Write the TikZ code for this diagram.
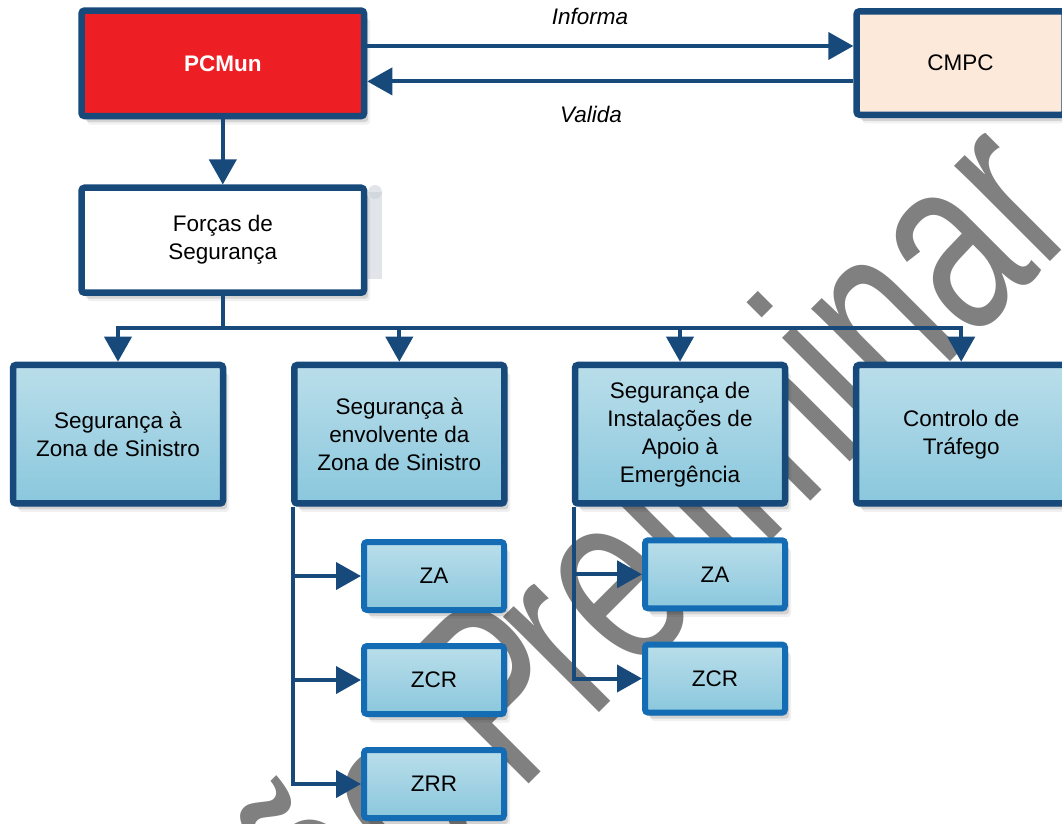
\documentclass[tikz,border=0pt]{standalone}
\usepackage{fontspec}
\setmainfont{Liberation Sans}
\newfontfamily\wmfam{Liberation Sans}
\usepackage{graphicx}
\usetikzlibrary{arrows.meta,shadows,calc}
\definecolor{navy}{RGB}{23,73,123}
\definecolor{zblue}{RGB}{19,108,180}
\definecolor{bluetop}{RGB}{186,222,234}
\definecolor{bluebot}{RGB}{138,199,221}
\definecolor{pcred}{RGB}{237,31,36}
\definecolor{peach}{RGB}{252,233,218}
\definecolor{wmgray}{RGB}{128,128,128}
\definecolor{artif}{RGB}{200,206,214}
\newcommand\bxfont{\fontsize{22.5}{28}\selectfont}
\begin{document}
\begin{tikzpicture}[x=1pt,y=-1pt,
  basebox/.style={rectangle, rounded corners=3pt, inner sep=0pt, align=center, font=\bxfont},
  shad/.style={drop shadow={shadow xshift=2pt,shadow yshift=-3pt,opacity=.2,fill=black},
               drop shadow={shadow xshift=4pt,shadow yshift=-6pt,opacity=.12,fill=black},
               drop shadow={shadow xshift=6pt,shadow yshift=-8.5pt,opacity=.06,fill=black}},
  navybox/.style={basebox, draw=navy, line width=6.5pt, shad},
  rowbox/.style={navybox, top color=bluetop, bottom color=bluebot, minimum width=210pt, minimum height=138.5pt},
  zbox/.style={basebox, draw=zblue, line width=6pt, shad, top color=bluetop, bottom color=bluebot, minimum width=140pt, minimum height=68pt},
  conn/.style={draw=navy, line width=4pt},
  arr/.style={conn, -{Triangle[length=25pt,width=27pt]}},
  lbl/.style={font=\bxfont\itshape, inner sep=0pt},
  wm/.style={anchor=base east, rotate=45, inner sep=0pt, text=wmgray, font=\wmfam\fontsize{256}{256}\selectfont}
]
\useasboundingbox (0,0) rectangle (1062,823);
\begin{scope}
\clip (0,0) rectangle (1062,823);
\node[wm] (wmark) at (1085.1,227.3) {\scalebox{0.712}[1]{Versão\kern-17pt{} P\kern-26.7pt reliminar}};
\end{scope}

% top boxes
\node[navybox, fill=pcred, minimum width=282.5pt, minimum height=105.5pt, text=white, font=\bxfont\bfseries] (pcmun) at (222.8,63.3) {PCMun};
\node[navybox, fill=peach, minimum width=208pt, minimum height=103.5pt] (cmpc) at (960.6,63) {CMPC};
\fill[artif, opacity=.55] (368,192) rectangle (382,279);
\fill[artif, opacity=.55] (375,192) circle (7);
\node[navybox, fill=white, minimum width=282.5pt, minimum height=105pt] (forcas) at (222.8,240.2) {Forças de\\Segurança};

% row boxes
\node[rowbox] (b1) at (118,434.2) {Segurança à\\Zona de Sinistro};
\node[rowbox] (b2) at (399.3,434.2) {Segurança à\\envolvente da\\Zona de Sinistro};
\node[rowbox] (b3) at (680,434.2) {Segurança de\\Instalações de\\Apoio à\\Emergência};
\node[rowbox] (b4) at (961.2,434.2) {Controlo de\\Tráfego};

% zone boxes
\node[zbox] (za1) at (434,576) {ZA};
\node[zbox] (zc1) at (434,680) {ZCR};
\node[zbox] (zr1) at (434,784) {ZRR};
\node[zbox] (za2) at (715,574.3) {ZA};
\node[zbox] (zc2) at (715,678.5) {ZCR};

% labels
\node[lbl] (inf) at (590,16) {Informa};
\node[lbl] (val) at (591,114) {Valida};

% connectors
\coordinate (i1) at ([yshift=17.3pt]pcmun.east);
\draw[arr] (i1) -- (i1 -| cmpc.west);
\coordinate (v1) at ([yshift=-18.4pt]cmpc.west);
\draw[arr] (v1) -- (v1 -| pcmun.east);
\draw[arr] (pcmun.south) -- (forcas.north);
\coordinate (busy) at (0,328.3);
\coordinate (bj) at (forcas.south |- busy);
\draw[conn] (forcas.south) -- (bj);
\draw[arr] (bj) -| (b1.north);
\draw[arr] (bj) -| (b2.north);
\draw[arr] (bj) -| (b3.north);
\draw[arr] (bj) -| (b4.north);
\coordinate (lc) at ([xshift=2pt]b2.south west);
\draw[arr] (lc) |- (za1.west);
\draw[arr] (lc) |- (zc1.west);
\draw[arr] (lc) |- (zr1.west);
\coordinate (rc) at ([xshift=2.5pt]b3.south west);
\draw[arr] (rc) |- (za2.west);
\draw[arr] (rc) |- (zc2.west);
\end{tikzpicture}
\end{document}
